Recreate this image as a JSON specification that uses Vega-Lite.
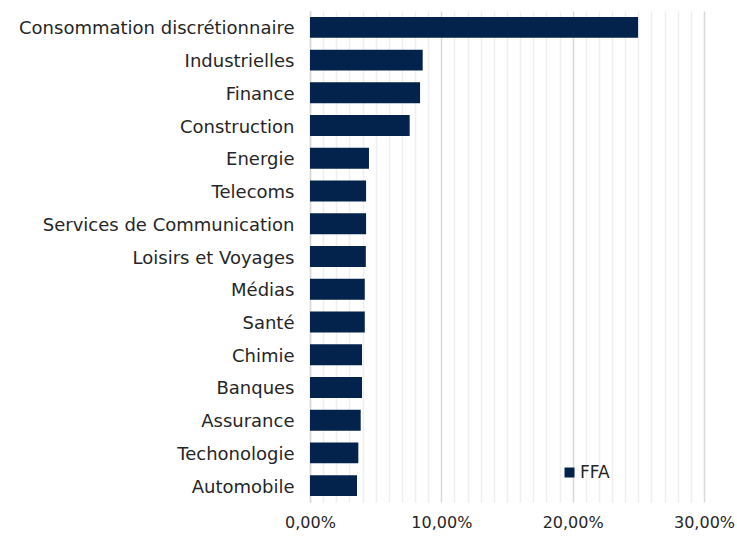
{
  "$schema": "https://vega.github.io/schema/vega-lite/v6.json",
  "width": 394,
  "height": 491,
  "autosize": {"type": "none"},
  "padding": {"left": 310, "top": 11, "right": 33, "bottom": 34},
  "background": "white",
  "config": {
    "font": "DejaVu Sans",
    "view": {"stroke": null}
  },
  "data": {
    "values": [
      {"secteur": "Consommation discrétionnaire", "valeur": 0.2498, "serie": "FFA"},
      {"secteur": "Industrielles", "valeur": 0.0858, "serie": "FFA"},
      {"secteur": "Finance", "valeur": 0.0838, "serie": "FFA"},
      {"secteur": "Construction", "valeur": 0.0759, "serie": "FFA"},
      {"secteur": "Energie", "valeur": 0.0449, "serie": "FFA"},
      {"secteur": "Telecoms", "valeur": 0.0427, "serie": "FFA"},
      {"secteur": "Services de Communication", "valeur": 0.0427, "serie": "FFA"},
      {"secteur": "Loisirs et Voyages", "valeur": 0.0425, "serie": "FFA"},
      {"secteur": "Médias", "valeur": 0.0417, "serie": "FFA"},
      {"secteur": "Santé", "valeur": 0.0417, "serie": "FFA"},
      {"secteur": "Chimie", "valeur": 0.0396, "serie": "FFA"},
      {"secteur": "Banques", "valeur": 0.0396, "serie": "FFA"},
      {"secteur": "Assurance", "valeur": 0.0386, "serie": "FFA"},
      {"secteur": "Techonologie", "valeur": 0.0368, "serie": "FFA"},
      {"secteur": "Automobile", "valeur": 0.0358, "serie": "FFA"}
    ]
  },
  "mark": {"type": "bar"},
  "encoding": {
    "y": {
      "field": "secteur",
      "type": "nominal",
      "sort": null,
      "scale": {"paddingInner": 0.36, "paddingOuter": 0.18},
      "axis": {
        "title": null,
        "ticks": false,
        "labelFontSize": 18,
        "labelColor": "#262626",
        "labelPadding": 16,
        "labelOffset": 2,
        "domainColor": "#d9d9d9",
        "domainWidth": 1.5,
        "grid": false,
        "labelLimit": 400
      }
    },
    "x": {
      "field": "valeur",
      "type": "quantitative",
      "scale": {"domain": [0, 0.3], "nice": false},
      "axis": {
        "title": null,
        "values": [0,0.01,0.02,0.03,0.04,0.05,0.06,0.07,0.08,0.09,0.1,0.11,0.12,0.13,0.14,0.15,0.16,0.17,0.18,0.19,0.2,0.21,0.22,0.23,0.24,0.25,0.26,0.27,0.28,0.29,0.3],
        "labelExpr": "abs(datum.value*10 - round(datum.value*10)) < 0.001 ? replace(format(datum.value, '.2%'), '.', ',') : ''",
        "labelFontSize": 16,
        "labelColor": "#262626",
        "labelPadding": 12,
        "labelFlush": false,
        "labelOverlap": false,
        "ticks": false,
        "domain": false,
        "grid": true,
        "gridColor": {"condition": {"test": "abs(datum.value*10 - round(datum.value*10)) < 0.001", "value": "#d9d9d9"}, "value": "#efefef"},
        "gridWidth": 1.5
      }
    },
    "color": {
      "field": "serie",
      "type": "nominal",
      "scale": {"range": ["#03224c"]},
      "legend": {
        "title": null,
        "orient": "none",
        "legendX": 251,
        "legendY": 453,
        "symbolType": "square",
        "symbolSize": 100,
        "symbolStrokeWidth": 0,
        "labelFontSize": 17,
        "labelColor": "#262626",
        "labelOffset": 2
      }
    }
  }
}
